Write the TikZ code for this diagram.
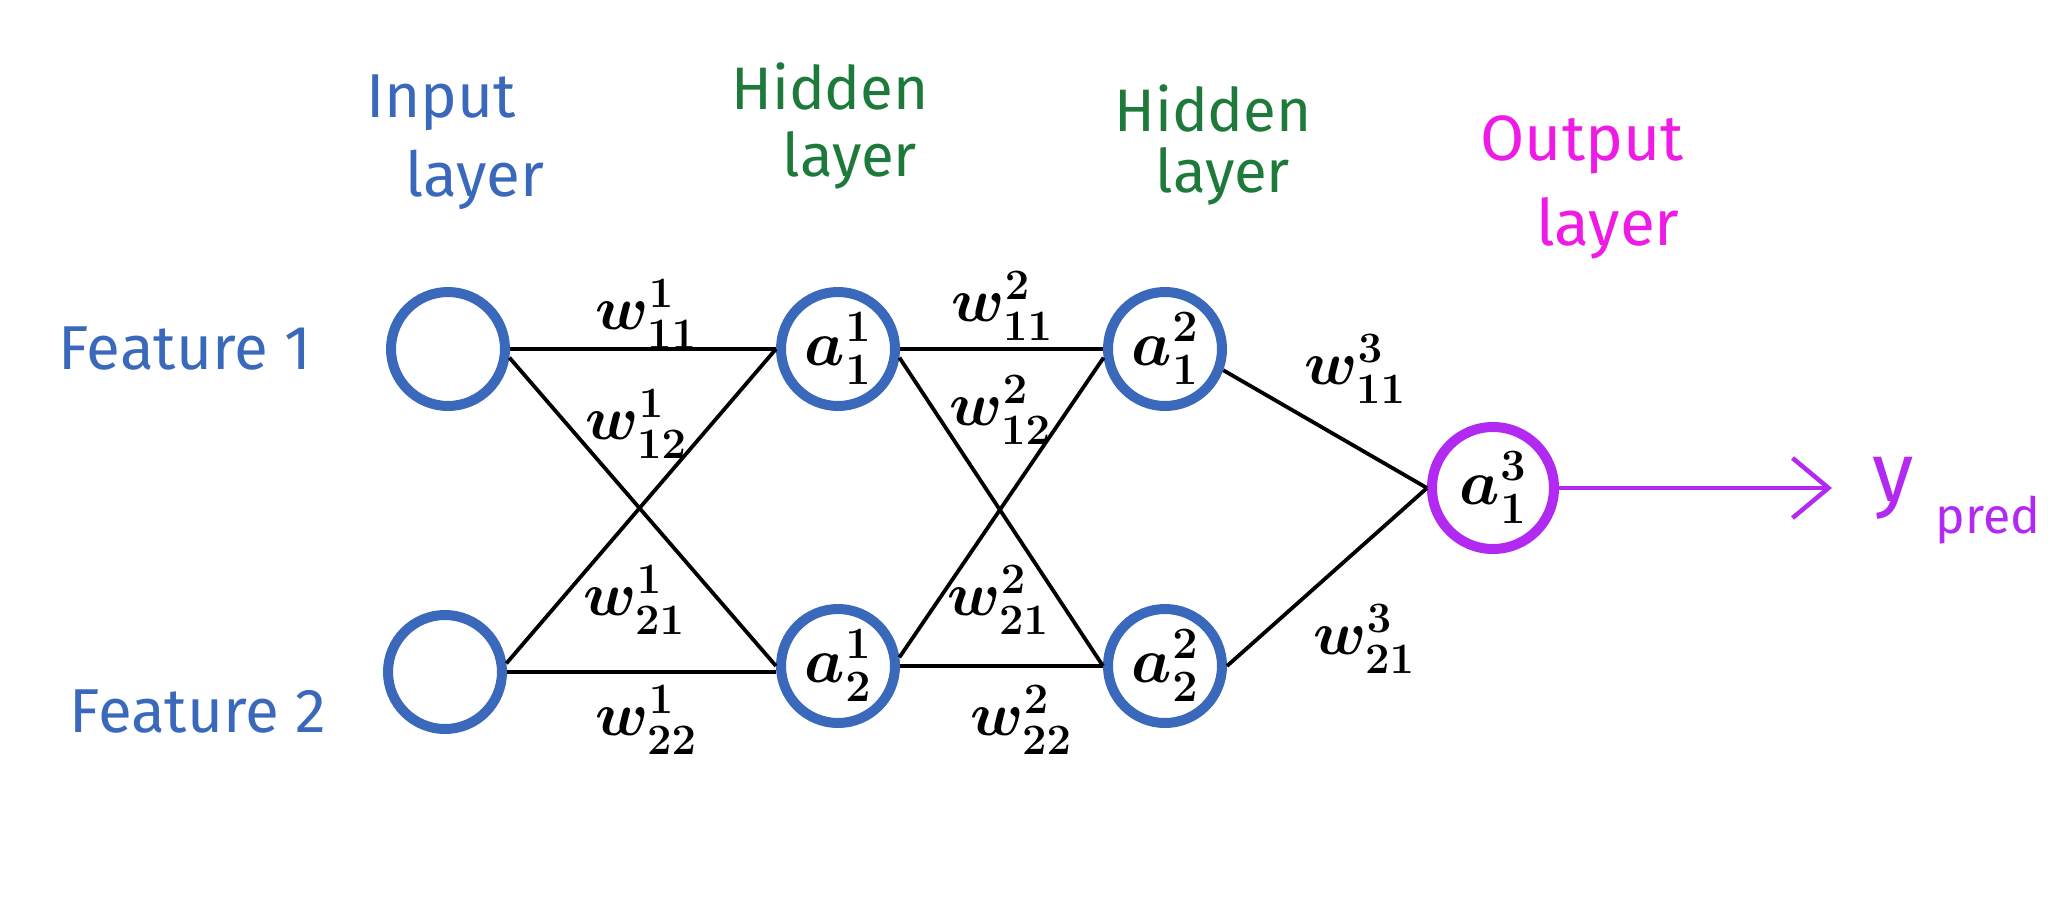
\RequirePackage{fix-cm}
\documentclass[tikz,border=0pt]{standalone}
\usepackage{fontspec}
\setmainfont{Fira Sans}
\usetikzlibrary{arrows.meta}
\definecolor{nnblue}{HTML}{3A69BC}
\definecolor{nngreen}{HTML}{1E7A3A}
\definecolor{nnmagenta}{HTML}{F01AE6}
\definecolor{nnpurple}{HTML}{B22AF2}
\begin{document}
\begin{tikzpicture}[x=1pt,y=-1pt,
  neuron/.style={circle,draw=nnblue,line width=10pt,minimum size=114pt,inner sep=0pt,font=\fontsize{64}{70}\selectfont\boldmath},
  outneuron/.style={neuron,draw=nnpurple,line width=10pt,minimum size=122pt},
  conn/.style={line width=3.8pt,draw=black},
  wlabel/.style={font=\fontsize{62}{70}\selectfont\boldmath,inner sep=0pt},
  bluetext/.style={text=nnblue,font=\fontsize{62}{68}\selectfont,inner sep=0pt},
  greentext/.style={text=nngreen,font=\fontsize{60}{66}\selectfont,inner sep=0pt},
  magtext/.style={text=nnmagenta,font=\fontsize{64}{70}\selectfont,inner sep=0pt},
  purptext/.style={text=nnpurple,inner sep=0pt}]
\useasboundingbox[fill=white] (0,0) rectangle (2067,900);

% layer titles
\node[bluetext] (tin1) at (441,103) {Input};
\node[bluetext] (tin2) at (475,180) {layer};
\node[greentext] (th11) at (830,86) {Hidden};
\node[greentext] (th12) at (850,160) {layer};
\node[greentext] (th21) at (1213,108) {Hidden};
\node[greentext] (th22) at (1223,176) {layer};
\node[magtext] (tout1) at (1582,145) {Output};
\node[magtext] (tout2) at (1608,228) {layer};

% feature labels
\node[bluetext] (f1) at (185,349) {Feature 1};
\node[bluetext] (f2) at (198,712) {Feature 2};

% neurons
\node[neuron] (i1) at (448,349) {};
\node[neuron] (i2) at (445,672) {};
\node[neuron] (h11) at (838,349) {$a^1_1$};
\node[neuron] (h12) at (838,666) {$a^1_2$};
\node[neuron] (h21) at (1165,349) {$a^2_1$};
\node[neuron] (h22) at (1165,666) {$a^2_2$};
\node[outneuron] (o) at (1493,488) {$a^3_1$};

% connections
\draw[conn] (i1.east) -- (h11.west);
\draw[conn] (i1.-8) -- (h12.west);
\draw[conn] (i2.8) -- (h11.west);
\draw[conn] (i2.east) -- (i2.east -| h12.west);
\draw[conn] (h11.east) -- (h21.west);
\draw[conn] (h11.-8) -- (h22.west);
\draw[conn] (h12.8) -- (h21.-172);
\draw[conn] (h12.east) -- (h22.west);
\draw[conn] (h21.-20) -- (o.west);
\draw[conn] (h22.east) -- (o.west);

% output arrow
\coordinate (yend) at (1832,488);
\draw[draw=nnpurple,line width=4.5pt,-{Straight Barb[length=36pt,width=60pt,line width=4.5pt]}] (o.east) -- (yend);
\node[purptext,font=\fontsize{84}{90}\selectfont] (ypred) at (1893,488) {y};
\node[purptext,font=\fontsize{50}{56}\selectfont] (pred) at (1988,520) {pred};

% weight labels
\node[wlabel] (w111) at (646,314) {$w^1_{11}$};
\node[wlabel] (w112) at (636,424) {$w^1_{12}$};
\node[wlabel] (w121) at (634,600) {$w^1_{21}$};
\node[wlabel] (w122) at (646,720) {$w^1_{22}$};
\node[wlabel] (w211) at (1002,306) {$w^2_{11}$};
\node[wlabel] (w212) at (1000,410) {$w^2_{12}$};
\node[wlabel] (w221) at (998,600) {$w^2_{21}$};
\node[wlabel] (w222) at (1021,720) {$w^2_{22}$};
\node[wlabel] (w311) at (1355,369) {$w^3_{11}$};
\node[wlabel] (w321) at (1364,639) {$w^3_{21}$};
\end{tikzpicture}
\end{document}
